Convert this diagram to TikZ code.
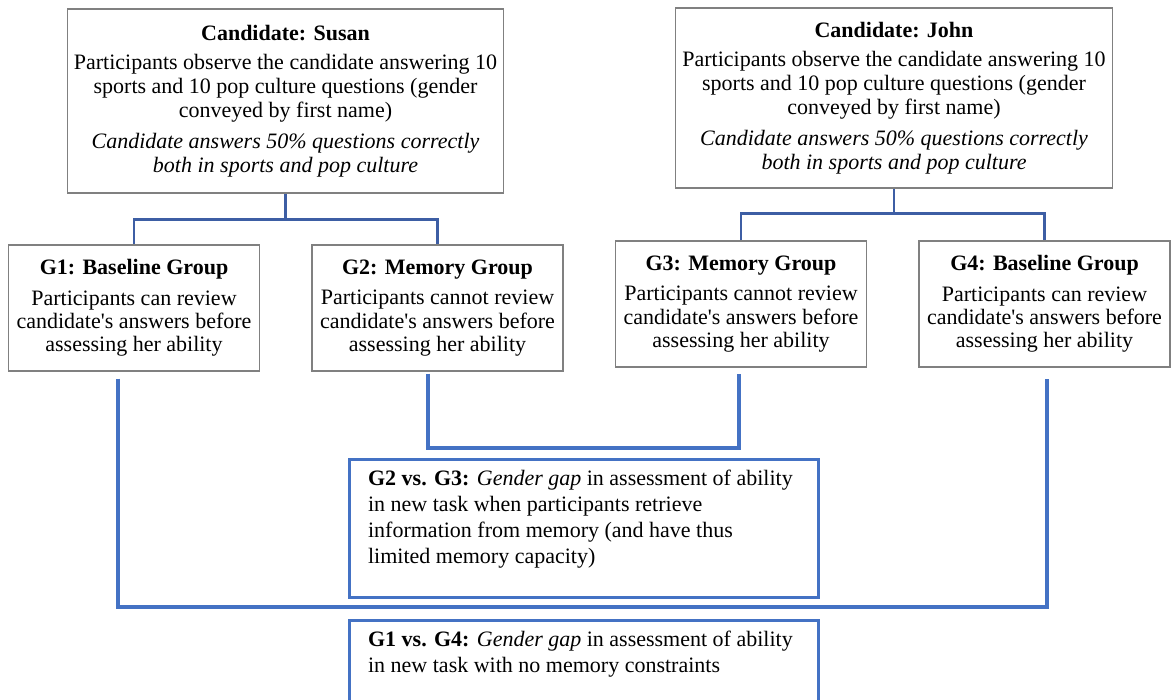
\documentclass[tikz,border=0pt]{standalone}
\usepackage{fontspec}
\setmainfont{Liberation Serif}
\usetikzlibrary{calc}
\definecolor{boxgray}{RGB}{128,128,128}
\definecolor{linkblue}{RGB}{61,94,164}
\definecolor{cmpblue}{RGB}{68,114,196}

\begin{document}
\begin{tikzpicture}[x=0.5pt, y=-0.5pt,
    candbox/.style={draw=boxgray, line width=0.6pt, align=center, minimum width=218pt, font=\fontsize{11}{12}\selectfont},
    groupbox/.style={draw=boxgray, line width=0.6pt, align=center, minimum width=125.5pt, minimum height=63pt, font=\fontsize{11}{11.7}\selectfont},
    cmpbox/.style={draw=cmpblue, line width=1.6pt, anchor=north west, inner xsep=9.25pt, inner ysep=5pt, font=\fontsize{11}{13}\selectfont},
    split/.style={draw=linkblue, line width=1.3pt},
    link/.style={draw=cmpblue, line width=2pt}
]
\useasboundingbox (0,0) rectangle (1171,700);
\clip (0,0) rectangle (1171,700);

%% candidates
\node[candbox, minimum height=92pt] (susan) at (285.5,101) {\textbf{Candidate: Susan}\\[2.5pt]
    Participants observe the candidate answering 10\\ sports and 10 pop culture questions (gender\\ conveyed by first name)\\[3.5pt]
    \textit{Candidate answers 50\% questions correctly}\\ \textit{both in sports and pop culture}};
\node[candbox, minimum height=90pt] (john) at (894,98) {\textbf{Candidate: John}\\[2.5pt]
    Participants observe the candidate answering 10\\ sports and 10 pop culture questions (gender\\ conveyed by first name)\\[3.5pt]
    \textit{Candidate answers 50\% questions correctly}\\ \textit{both in sports and pop culture}};

%% groups
\node[groupbox] (g1) at (134,308) {\textbf{G1: Baseline Group}\\[3.5pt]
    Participants can review\\ candidate\textquotesingle s answers before\\ assessing her ability};
\node[groupbox] (g2) at (437.5,308) {\textbf{G2: Memory Group}\\[3.5pt]
    Participants cannot review\\ candidate\textquotesingle s answers before\\ assessing her ability};
\node[groupbox] (g3) at (741,304) {\textbf{G3: Memory Group}\\[3.5pt]
    Participants cannot review\\ candidate\textquotesingle s answers before\\ assessing her ability};
\node[groupbox] (g4) at (1044.5,304) {\textbf{G4: Baseline Group}\\[3.5pt]
    Participants can review\\ candidate\textquotesingle s answers before\\ assessing her ability};

%% split into groups
\coordinate (sj) at ($(susan.south)+(0,26)$);
\coordinate (jj) at ($(john.south)+(0,25)$);
\draw[split] (susan.south) -- (sj);
\draw[split] (g1.north) |- (sj) -| (g2.north);
\draw[split] (john.south) -- (jj);
\draw[split] (g3.north) |- (jj) -| (g4.north);

%% comparisons
\node[cmpbox] (cmp23) at (348,458) {\parbox[t][59pt][t]{216pt}{\raggedright
    \textbf{G2 vs. G3:} \textit{Gender gap} in assessment of ability\\ in new task when participants retrieve\\ information from memory (and have thus\\ limited memory capacity)}};
\node[cmpbox] (cmp14) at (348,619) {\parbox[t][59pt][t]{216pt}{\raggedright
    \textbf{G1 vs. G4:} \textit{Gender gap} in assessment of ability\\ in new task with no memory constraints}};

\coordinate (g1b) at ($(g1.south)+(-16,7)$);
\coordinate (g4b) at ($(g4.south)+(2.5,11)$);
\coordinate (g2b) at ($(g2.south)+(-9.5,2)$);
\coordinate (g3b) at ($(g3.south)+(-2,6)$);
\draw[link] (g2b) -- ++(0,74) -| (g3b);
\draw[link] (g1b) -- ++(0,228) -| (g4b);
\end{tikzpicture}
\end{document}
